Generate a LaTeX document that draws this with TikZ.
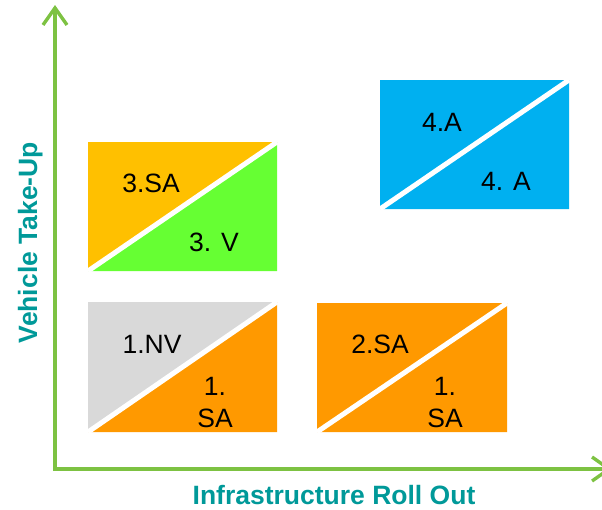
\documentclass[tikz,border=0pt]{standalone}
\usepackage{fontspec}
\setmainfont{Liberation Sans}
\usetikzlibrary{arrows.meta}
\definecolor{axisgreen}{RGB}{125,194,66}
\definecolor{teal}{RGB}{0,153,153}
\definecolor{cgold}{RGB}{255,192,0}
\definecolor{clime}{RGB}{102,255,51}
\definecolor{cgrey}{RGB}{217,217,217}
\definecolor{corange}{RGB}{255,153,0}
\definecolor{cblue}{RGB}{0,176,240}
\begin{document}
\begin{tikzpicture}[x=1pt,y=-1pt,
  axis/.style={draw=axisgreen,line width=3.4pt,-{Straight Barb[length=17pt,width=24pt,line width=3.4pt]}},
  lbl/.style={font=\fontsize{26.5}{30}\selectfont,text=black,inner sep=0pt,anchor=base},
  axlbl/.style={font=\fontsize{26.5}{30}\selectfont\bfseries,text=teal,inner sep=0pt,anchor=base},
  split/.style={draw=white,line width=5pt}]
\useasboundingbox (0,0) rectangle (602,509);
% boxes
\newcommand{\halfbox}[6]{%
  \fill[#5] (#1,#2) -- (#3,#2) -- (#1,#4) -- cycle;
  \fill[#6] (#3,#2) -- (#3,#4) -- (#1,#4) -- cycle;
  \draw[split] (#1,#4) -- (#3,#2);}
\halfbox{88}{142}{277}{271}{cgold}{clime}
\halfbox{88}{302}{277}{432}{cgrey}{corange}
\halfbox{317}{303}{507}{432}{corange}{corange}
\halfbox{380}{80}{569}{209}{cblue}{cblue}
% axes
\coordinate (o) at (55,469);
\coordinate (ytop) at (55,5);
\coordinate (xend) at (612,469);
\draw[axis] (55,471) -- (ytop);
\draw[axis] (53.3,469) -- (xend);
% labels
\node[lbl] (t3a) at (151,192) {3.SA};
\node[lbl] (t3b) at (214,251) {3. V};
\node[lbl] (t1a) at (152,353) {1.NV};
\node[lbl] (t1b) at (215,395) {1.};
\node[lbl] (t1c) at (215,427) {SA};
\node[lbl] (t2a) at (380,353) {2.SA};
\node[lbl] (t2b) at (445,395) {1.};
\node[lbl] (t2c) at (445,427) {SA};
\node[lbl] (t4a) at (442,131) {4.A};
\node[lbl] (t4b) at (506,190) {4. A};
\node[axlbl] (xl) at (334,504) {Infrastructure Roll Out};
\node[axlbl,rotate=90] (yl) at (37,242.5) {Vehicle Take-Up};
\end{tikzpicture}
\end{document}
